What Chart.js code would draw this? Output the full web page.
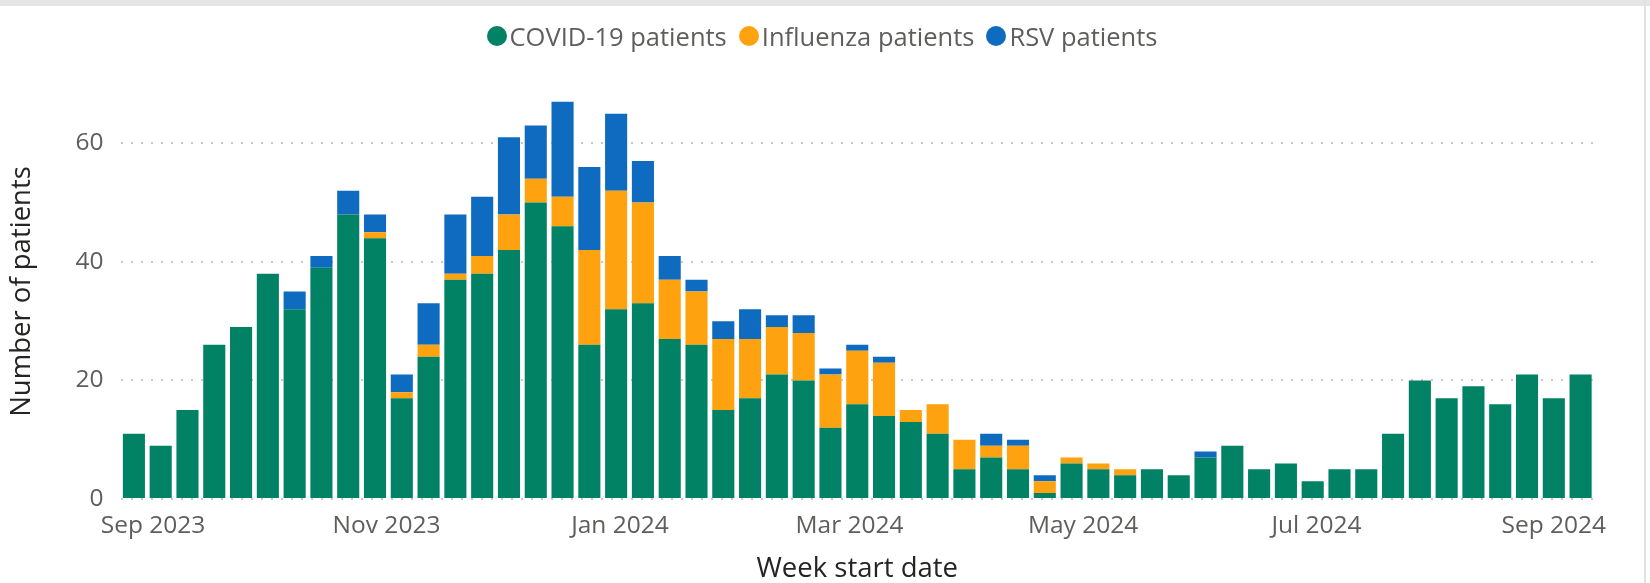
<!DOCTYPE html>
<html>
<head>
<meta charset="utf-8">
<script src="https://cdn.jsdelivr.net/npm/chart.js@4.4.1/dist/chart.umd.min.js"></script>
<style>
  html, body { margin: 0; padding: 0; background: #fff; }
  body { width: 1650px; height: 583px; position: relative; overflow: hidden; font-family: 'Open Sans', sans-serif; }
  #topBand { position: absolute; left: 0; top: 0; width: 1650px; height: 6px; background: #e6e6e6; }
  #rightEdge { position: absolute; left: 1644px; top: 0; width: 2px; height: 583px; background: #e2e2e2; }
  #legend { position: absolute; left: 0; top: 21px; width: 1644px; height: 30px; display: flex; justify-content: center; align-items: center; }
  .item { display: flex; align-items: center; margin: 0 6px; color: #605e5c; font-size: 25.5px; line-height: 30px; white-space: nowrap; }
  .dot { width: 20px; height: 20px; border-radius: 50%; margin-right: 3px; }
  canvas { position: absolute; left: 0; top: 0; }
</style>
</head>
<body>
<div id="topBand"></div>
<canvas id="chart" width="1650" height="583"></canvas>
<div id="legend"></div>
<div id="rightEdge"></div>
<script>
// Week start dates (one bar per week)
const weekStarts = [
  '2023-08-27', '2023-09-03', '2023-09-10', '2023-09-17', '2023-09-24',
  '2023-10-01', '2023-10-08', '2023-10-15', '2023-10-22', '2023-10-29',
  '2023-11-05', '2023-11-12', '2023-11-19', '2023-11-26',
  '2023-12-03', '2023-12-10', '2023-12-17', '2023-12-24', '2023-12-31',
  '2024-01-07', '2024-01-14', '2024-01-21', '2024-01-28',
  '2024-02-04', '2024-02-11', '2024-02-18', '2024-02-25',
  '2024-03-03', '2024-03-10', '2024-03-17', '2024-03-24', '2024-03-31',
  '2024-04-07', '2024-04-14', '2024-04-21', '2024-04-28',
  '2024-05-05', '2024-05-12', '2024-05-19', '2024-05-26',
  '2024-06-02', '2024-06-09', '2024-06-16', '2024-06-23', '2024-06-30',
  '2024-07-07', '2024-07-14', '2024-07-21', '2024-07-28',
  '2024-08-04', '2024-08-11', '2024-08-18', '2024-08-25',
  '2024-09-01', '2024-09-08'
];

// Series values
const covidPatients = [11, 9, 15, 26, 29, 38, 32, 39, 48, 44, 17, 24, 37, 38, 42, 50, 46, 26, 32, 33,
  27, 26, 15, 17, 21, 20, 12, 16, 14, 13, 11, 5, 7, 5, 1, 6, 5, 4, 5, 4,
  7, 9, 5, 6, 3, 5, 5, 11, 20, 17, 19, 16, 21, 17, 21];
const fluPatients = [0, 0, 0, 0, 0, 0, 0, 0, 0, 1, 1, 2, 1, 3, 6, 4, 5, 16, 20, 17,
  10, 9, 12, 10, 8, 8, 9, 9, 9, 2, 5, 5, 2, 4, 2, 1, 1, 1, 0, 0,
  0, 0, 0, 0, 0, 0, 0, 0, 0, 0, 0, 0, 0, 0, 0];
const rsvPatients = [0, 0, 0, 0, 0, 0, 3, 2, 4, 3, 3, 7, 10, 10, 13, 9, 16, 14, 13, 7,
  4, 2, 3, 5, 2, 3, 1, 1, 1, 0, 0, 0, 2, 1, 1, 0, 0, 0, 0, 0,
  1, 0, 0, 0, 0, 0, 0, 0, 0, 0, 0, 0, 0, 0, 0];

const seriesNames = ['COVID-19 patients', 'Influenza patients', 'RSV patients'];
const seriesColors = ['#028264', '#fea30f', '#0f6bbf'];

// Axis ticks
const xTickDates = ['2023-09-01', '2023-11-01', '2024-01-01', '2024-03-01', '2024-05-01', '2024-07-01', '2024-09-01'];
const xTickLabels = ['Sep 2023', 'Nov 2023', 'Jan 2024', 'Mar 2024', 'May 2024', 'Jul 2024', 'Sep 2024'];
const yTicks = [0, 20, 40, 60];

const FONT = "'Open Sans', sans-serif";

// days since the first week start
const baseDay = Date.parse(weekStarts[0]) / 86400000;
const toDay = s => Date.parse(s) / 86400000 - baseDay;
const weekDays = weekStarts.map(toDay);
const xTickDays = xTickDates.map(toDay);

// Legend
const legendEl = document.getElementById('legend');
seriesNames.forEach((name, i) => {
  legendEl.innerHTML += `<div class="item"><span class="dot" style="background:${seriesColors[i]}"></span>${name}</div>`;
});

const seriesValues = [covidPatients, fluPatients, rsvPatients];
const datasets = seriesNames.map((name, i) => ({
  label: name,
  data: weekDays.map((d, j) => ({ x: d, y: seriesValues[i][j] })),
  backgroundColor: seriesColors[i],
  barPercentage: 0.825,
  categoryPercentage: 1
}));

new Chart(document.getElementById('chart').getContext('2d'), {
  type: 'bar',
  data: { datasets },
  options: {
    responsive: false,
    animation: false,
    layout: { padding: { top: 84, right: 56, bottom: 0, left: 0 } },
    plugins: { legend: { display: false }, tooltip: { enabled: false } },
    scales: {
      x: {
        type: 'linear',
        stacked: true,
        offset: false,
        min: weekDays[0] - 3.5,
        max: weekDays[weekDays.length - 1] + 3.5,
        grid: { display: false, drawTicks: false },
        border: { display: false },
        afterBuildTicks: axis => { axis.ticks = xTickDays.map(v => ({ value: v })); },
        afterFit: axis => { axis.height = 84; },
        ticks: {
          autoSkip: false, maxRotation: 0, padding: 12, color: '#605e5c',
          font: { family: FONT, size: 24.5 },
          callback: (v, i) => xTickLabels[i]
        },
        title: {
          display: true, text: 'Week start date', color: '#252423',
          font: { family: FONT, size: 27.5, lineHeight: 1 }, padding: { top: 0, bottom: 0 }
        }
      },
      y: {
        stacked: true,
        min: 0,
        max: 70,
        afterBuildTicks: axis => { axis.ticks = yTicks.map(v => ({ value: v })); },
        afterFit: axis => { axis.width = 120.5; },
        grid: { color: '#c8c8c8', lineWidth: 2, drawTicks: false },
        border: { display: false, dash: [2, 8] },
        ticks: { padding: 17, color: '#605e5c', font: { family: FONT, size: 24.5 } },
        title: {
          display: true, text: 'Number of patients', color: '#252423',
          font: { family: FONT, size: 27.5, lineHeight: 1 }, padding: { top: 8, bottom: 0 }
        }
      }
    }
  }
});
</script>
</body>
</html>
